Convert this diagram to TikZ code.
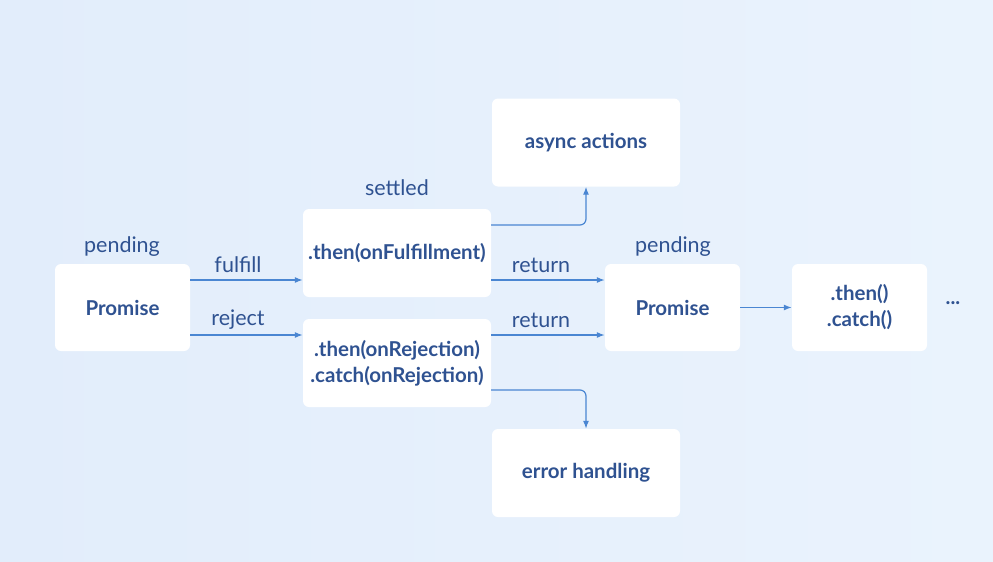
\documentclass[tikz,border=0pt]{standalone}
\usepackage{fontspec}
\setmainfont{Lato}
\usetikzlibrary{arrows.meta}
\definecolor{bgleft}{HTML}{E2EDFB}
\definecolor{bgright}{HTML}{EAF3FD}
\definecolor{txtblue}{HTML}{2F5291}
\definecolor{arrowblue}{HTML}{4A86D2}

\begin{document}
\begin{tikzpicture}[x=1pt,y=-1pt,
	box/.style={fill=white,rounded corners=6pt,text=txtblue,align=center,inner sep=0pt,
		font=\bfseries\fontsize{20.5}{26}\selectfont},
	smallbox/.style={box,minimum width=135pt,minimum height=87pt},
	widebox/.style={box,minimum width=188pt,minimum height=88pt},
	lbl/.style={text=txtblue,font=\fontsize{21.5}{25}\selectfont},
	conn/.style={draw=arrowblue,line width=1.2pt,rounded corners=6pt,-{Latex[length=8pt,width=6pt]}}]
	\shade[left color=bgleft,right color=bgright] (0,0) rectangle (993,562);
	\useasboundingbox (0,0) rectangle (993,562);

	\node[smallbox] (p1) at (122.5,307.5) {Promise};
	\node[widebox] (f) at (397,253) {.then(onFulfillment)};
	\node[widebox] (r) at (397,363) {.then(onRejection)\\.catch(onRejection)};
	\node[widebox] (a) at (586,142.5) {async actions};
	\node[widebox] (e) at (586,473) {error handling};
	\node[smallbox] (p2) at (672.5,307.5) {Promise};
	\node[smallbox] (n) at (859.5,307.5) {.then()\\.catch()};
	\node[lbl,font=\bfseries\fontsize{20.5}{24}\selectfont] (dots) at (953,303) {...};

	\node[lbl] (s1) at (122,247) {pending};
	\node[lbl] (s2) at (397,188) {settled};
	\node[lbl] (s3) at (673,247) {pending};
	\node[lbl] (l1) at (238,265) {fulfill};
	\node[lbl] (l2) at (238,320) {reject};
	\node[lbl] (l3) at (541,265) {return};
	\node[lbl] (l4) at (541,320) {return};

	\draw[conn] (p1.east |- 0,280) -- (f.west |- 0,280);
	\draw[conn] (p1.east |- 0,335) -- (r.west |- 0,335);
	\draw[conn] (f.east |- 0,280) -- (p2.west |- 0,280);
	\draw[conn] (r.east |- 0,335) -- (p2.west |- 0,335);
	\draw[conn] (f.east |- 0,225) -| (a.south);
	\draw[conn] (r.east |- 0,390) -| (e.north);
	\draw[conn] (p2.east) -- (n.west);
\end{tikzpicture}
\end{document}
